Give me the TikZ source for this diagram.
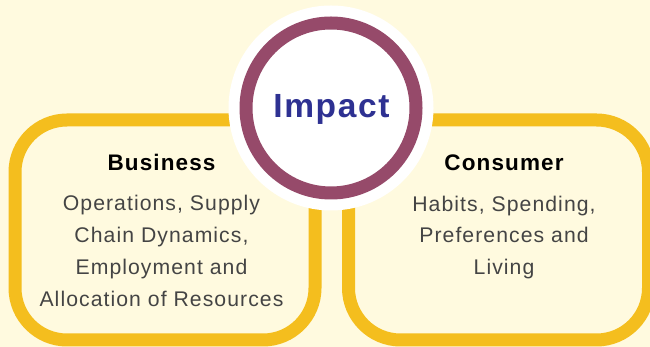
\documentclass[tikz,border=0pt]{standalone}
\usepackage{fontspec}
\setmainfont{Liberation Sans}
\newfontfamily\spaced[LetterSpace=5]{Liberation Sans}
\definecolor{bgcream}{HTML}{FFFADF}
\definecolor{boxyellow}{HTML}{F4BE1E}
\definecolor{ringpurple}{HTML}{964A6A}
\definecolor{titleblue}{HTML}{2E3192}
\definecolor{bodygray}{HTML}{444444}
\tikzset{
  panel/.style={draw=boxyellow, line width=13pt, rounded corners=52pt},
  headtext/.style={anchor=base, inner sep=0pt, font=\spaced\bfseries\fontsize{22.5}{27}\selectfont, text=black},
  bodytext/.style={anchor=base, inner sep=0pt, font=\spaced\fontsize{21.2}{25}\selectfont, text=bodygray},
}
\begin{document}
\begin{tikzpicture}[x=1pt,y=1pt]
\useasboundingbox (0,0) rectangle (650,347);
\fill[bgcream] (0,0) rectangle (650,347);
\begin{scope}
\clip (0,0) rectangle (650,347);
\draw[panel] (15,7) rectangle (315,227);
\draw[panel] (348.5,7) rectangle (648.5,227);
\fill[white] (331,239) circle (102.5);
\draw[ringpurple, line width=13pt] (331,239) circle (85);
\end{scope}
\node[anchor=base, inner sep=0pt, font=\spaced\bfseries\fontsize{33.5}{40}\selectfont, text=titleblue] (impact) at (331.5,229) {Impact};
\node[headtext] (business) at (161.5,176) {Business};
\node[bodytext] (b1) at (161.5,136) {Operations, Supply};
\node[bodytext] (b2) at (161.5,104.3) {Chain Dynamics,};
\node[bodytext] (b3) at (161.5,72.5) {Employment and};
\node[bodytext] (b4) at (161.5,40.8) {Allocation of Resources};
\node[headtext] (consumer) at (504,176.3) {Consumer};
\node[bodytext] (c1) at (504,135.3) {Habits, Spending,};
\node[bodytext] (c2) at (504,104) {Preferences and};
\node[bodytext] (c3) at (504,72.3) {Living};
\end{tikzpicture}
\end{document}
